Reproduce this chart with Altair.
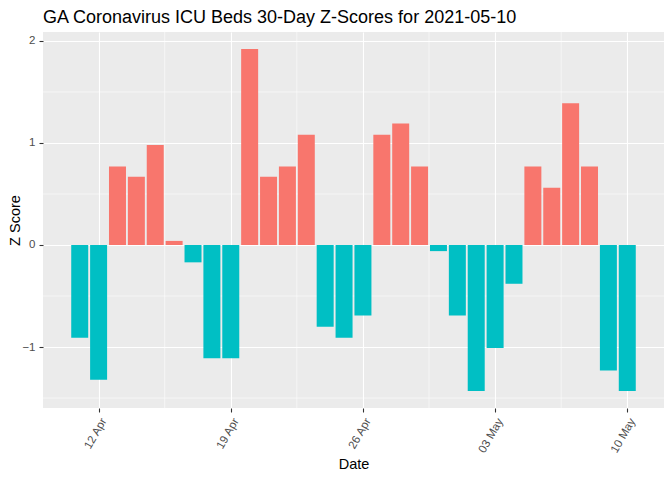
import altair as alt
import pandas as pd

dates = ["2021-04-11", "2021-04-12", "2021-04-13", "2021-04-14", "2021-04-15",
         "2021-04-16", "2021-04-17", "2021-04-18", "2021-04-19", "2021-04-20",
         "2021-04-21", "2021-04-22", "2021-04-23", "2021-04-24", "2021-04-25",
         "2021-04-26", "2021-04-27", "2021-04-28", "2021-04-29", "2021-04-30",
         "2021-05-01", "2021-05-02", "2021-05-03", "2021-05-04", "2021-05-05",
         "2021-05-06", "2021-05-07", "2021-05-08", "2021-05-09", "2021-05-10"]
zscores = [-0.91, -1.32, 0.77, 0.67, 0.98, 0.04, -0.17, -1.11, -1.11, 1.92,
           0.67, 0.77, 1.08, -0.80, -0.91, -0.69, 1.08, 1.19, 0.77, -0.06,
           -0.69, -1.43, -1.01, -0.38, 0.77, 0.56, 1.39, 0.77, -1.23, -1.43]
x_major = [(4, 12), (4, 19), (4, 26), (5, 3), (5, 10)]
x_minor = ["2021-04-15T12:00:00Z", "2021-04-22T12:00:00Z",
           "2021-04-29T12:00:00Z", "2021-05-06T12:00:00Z"]
y_major = [-1, 0, 1, 2]
y_minor = [-1.5, -0.5, 0.5, 1.5]

df = pd.DataFrame({"date": dates, "z": zscores})
xminor_df = pd.DataFrame({"pos": x_minor})
yminor_df = pd.DataFrame({"v": y_minor})

xdom = [alt.DateTime(year=2021, month=4, date=9, hours=1, minutes=19, utc=True),
        alt.DateTime(year=2021, month=5, date=11, hours=22, minutes=41, utc=True)]
xscale = alt.Scale(type="utc", domain=xdom)
yscale = alt.Scale(domain=[-1.5975, 2.0875], nice=False, zero=False)

xaxis = alt.Axis(
    values=[alt.DateTime(year=2021, month=m, date=d, utc=True) for m, d in x_major],
    labelExpr="utcFormat(datum.value, '%d %b')",
    labelAngle=300, labelAlign="right", labelBaseline="top", labelPadding=4,
    title="Date", titlePadding=3,
)
yaxis = alt.Axis(values=y_major, title="Z Score", titlePadding=-1, labelPadding=4)

bars = alt.Chart(df).transform_calculate(
    start="time(toDate(datum.date)) - 0.45*86400000",
    end="time(toDate(datum.date)) + 0.45*86400000",
    sign="datum.z >= 0 ? 'pos' : 'neg'",
).mark_bar().encode(
    x=alt.X("start:T", scale=xscale, axis=xaxis),
    x2="end:T",
    y=alt.Y("z:Q", scale=yscale, axis=yaxis),
    y2=alt.datum(0),
    color=alt.Color("sign:N", scale=alt.Scale(domain=["pos", "neg"],
                                              range=["#F8766D", "#00BFC4"]),
                    legend=None),
)

vminor = alt.Chart(xminor_df).mark_rule(color="white", strokeWidth=0.55).encode(
    x=alt.X("pos:T", scale=xscale, axis=xaxis)
)
hminor = alt.Chart(yminor_df).mark_rule(color="white", strokeWidth=0.55).encode(
    y=alt.Y("v:Q", scale=yscale, axis=yaxis)
)

chart = alt.layer(vminor, hminor, bars).properties(
    width=621, height=376,
    title=alt.TitleParams("GA Coronavirus ICU Beds 30-Day Z-Scores for 2021-05-10",
                          anchor="start", frame="group", fontSize=18,
                          font="Liberation Sans", fontWeight="normal",
                          color="black", offset=5),
    autosize=alt.AutoSizeParams(type="none"),
    padding={"left": 35, "top": 24, "right": 0, "bottom": 64},
).configure_view(
    fill="#EBEBEB", stroke=None
).configure_axis(
    domain=False, grid=True, gridColor="white", gridWidth=1.1,
    tickColor="#333333", tickSize=4, tickWidth=1.1,
    labelColor="#4D4D4D", labelFont="Liberation Sans", labelFontSize=11.5,
    titleFont="Liberation Sans", titleFontSize=14.5, titleFontWeight="normal",
    titleColor="black",
)

chart.save("out.html", embed_options={"renderer": "svg", "actions": False})
